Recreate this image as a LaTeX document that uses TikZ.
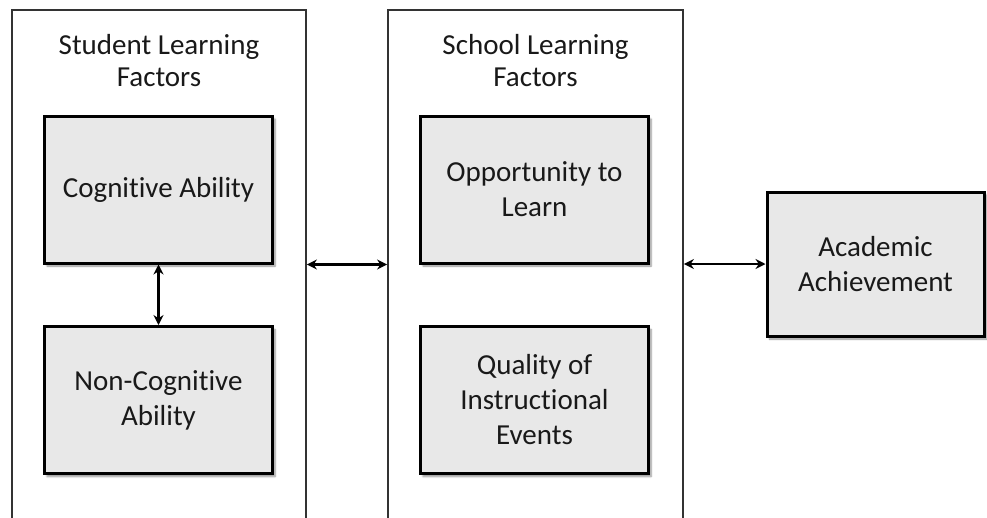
\documentclass[tikz,border=0pt]{standalone}
\usepackage{fontspec}
\setmainfont{Carlito}[Ligatures=NoCommon]
\usetikzlibrary{arrows.meta,shadows.blur}
\tikzset{
  panel/.style={draw=black!80,line width=1.8pt,minimum width=294pt,minimum height=560pt,inner sep=0pt},
  factor/.style={draw=black,line width=3pt,fill=black!9,minimum width=228pt,minimum height=147pt,
    align=center,inner sep=0pt,text=black!90,font=\fontsize{29}{35}\selectfont,
    blur shadow={shadow xshift=2.5pt,shadow yshift=-3pt,shadow blur steps=6,shadow opacity=45}},
  heading/.style={align=center,text=black!90,font=\fontsize{29}{32}\selectfont},
  link/.style={{Stealth[length=10pt,width=10pt]}-{Stealth[length=10pt,width=10pt]},line width=2.4pt}
}
\begin{document}
\begin{tikzpicture}[x=1pt,y=-1pt]
    \useasboundingbox (0,0) rectangle (987,517);
    \clip (0,0) rectangle (987,517);
    \node (student) at (159,290) [panel] {};
    \node (school) at (535.5,290) [panel,minimum width=295pt] {};
    \node (studenttitle) at (159,61) [heading] {Student Learning\\Factors};
    \node (schooltitle) at (535.5,61) [heading] {School Learning\\Factors};
    \node (cognitive) at (158.5,189.5) [factor] {Cognitive Ability};
    \node (noncognitive) at (158.5,400) [factor] {Non-Cognitive\\Ability};
    \node (opportunity) at (534.5,189.5) [factor] {Opportunity to\\Learn};
    \node (quality) at (534.5,400) [factor] {Quality of\\Instructional\\Events};
    \node (achievement) at (875.5,264) [factor,minimum width=217pt,minimum height=144pt] {Academic\\Achievement};
    \draw[link] (cognitive.south) -- (noncognitive.north);
    \draw[link] (student.east |- cognitive.south) -- (school.west |- cognitive.south);
    \draw[link] (school.east |- achievement.west) -- (achievement.west);
\end{tikzpicture}
\end{document}
